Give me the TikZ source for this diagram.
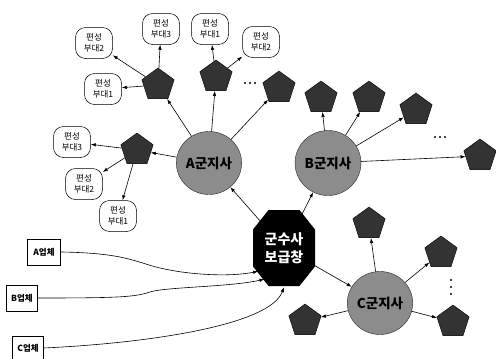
\documentclass[tikz,border=0pt]{standalone}
\usepackage{fontspec}
\newfontfamily\kr{Noto Sans CJK KR}
\usetikzlibrary{shapes.geometric,arrows.meta}
\begin{document}
\begin{tikzpicture}[x=1pt,y=-1pt,
 arr/.style={-{Latex[length=5pt,width=3.5pt]}, line width=0.6pt},
 penta/.style={regular polygon, regular polygon sides=5, minimum size=34pt, inner sep=0pt, fill=black!80, draw=black},
 gunji/.style={ellipse, minimum width=52pt, minimum height=64pt, inner sep=0pt, fill=black!45, draw=black!85, font=\kr\bfseries\fontsize{13.5}{15}\selectfont},
 unit/.style={rounded corners=10pt, draw, line width=0.5pt, minimum width=37pt, minimum height=31pt, inner sep=1pt, align=center, font=\kr\fontsize{8.5}{11}\selectfont, fill=white},
 firm/.style={draw, line width=0.8pt, minimum width=32pt, minimum height=26pt, inner sep=1pt, font=\kr\bfseries\fontsize{8.5}{9}\selectfont, fill=white},
 dotmark/.style={fill=black}]
\useasboundingbox (0,0) rectangle (496,359);

% central depot (octagon)
\fill[black, shift={(284,248)}] (-15.5,-38) -- (15.5,-38) -- (31,-18.5) -- (31,18.5) -- (15.5,38) -- (-15.5,38) -- (-31,18.5) -- (-31,-18.5) -- cycle;
\node[ellipse, minimum width=64pt, minimum height=78pt, inner sep=0pt, text=white, align=center, font=\kr\bfseries\fontsize{14}{18}\selectfont] (oct) at (284,248) {군수사\\보급창};

% support commands
\node[gunji, minimum width=50pt, minimum height=63pt] (A) at (209,163) {A군지사};
\node[gunji, minimum width=53pt, minimum height=65pt] (B) at (328,163) {B군지사};
\node[gunji, minimum width=53pt, minimum height=63pt] (C) at (380,303) {C군지사};

% pentagons
\node[penta] (pa1) at (158,85) {};
\node[penta] (pa2) at (216,77) {};
\node[penta] (pa3) at (279,88) {};
\node[penta] (pa4) at (137,150) {};
\node[penta] (pb2) at (321,98) {};
\node[penta] (pb3) at (369,98) {};
\node[penta] (pb4) at (416,110) {};
\node[penta] (pb5) at (480,156) {};
\node[penta] (pc1) at (369,224) {};
\node[penta] (pc2) at (441,253) {};
\node[penta] (pc3) at (453,322) {};
\node[penta] (pc4) at (305,321) {};

% units
\node[unit] (u1) at (94,43) {편성\\부대2};
\node[unit] (u2) at (161,29) {편성\\부대3};
\node[unit] (u3) at (210,29) {편성\\부대1};
\node[unit] (u4) at (261,42) {편성\\부대2};
\node[unit] (u5) at (103,89) {편성\\부대1};
\node[unit] (u6) at (72,142) {편성\\부대3};
\node[unit] (u7) at (84,184) {편성\\부대2};
\node[unit] (u8) at (118,216) {편성\\부대1};

% firms
\node[firm, minimum width=33pt] (Aco) at (44,252) {A업체};
\node[firm, minimum width=31pt] (Bco) at (22,298) {B업체};
\node[firm, minimum width=31pt, minimum height=24pt] (Cco) at (28,348) {C업체};

% ellipsis marks
\foreach \dx in {-5,0,5} {
  \fill[dotmark] (250+\dx,83) circle (1.2pt);
  \fill[dotmark] (440+\dx,137) circle (1.2pt);
}
\foreach \dy in {-7,0,7} \fill[dotmark] (451,287+\dy) circle (1.2pt);

% connectors: pentagons -> units
\draw[arr] (pa1) -- (u1);
\draw[arr] (pa1) -- (u2);
\draw[arr] (pa1) -- (u5);
\draw[arr] (pa2) -- (u3);
\draw[arr] (pa2) -- (u4);
\draw[arr] (pa4) -- (u6);
\draw[arr] (pa4) -- (u7);
\draw[arr] (pa4) -- (u8);

% support commands -> pentagons
\draw[arr] (A) -- (pa1);
\draw[arr] (A) -- (pa2);
\draw[arr] (A) -- (pa3);
\draw[arr] (A) -- (pa4);
\draw[arr] (B) -- (pb2);
\draw[arr] (B) -- (pb3);
\draw[arr] (B) -- (pb4);
\draw[arr] (B) -- (pb5);
\draw[arr] (C) -- (pc1);
\draw[arr] (C) -- (pc2);
\draw[arr] (C) -- (pc3);
\draw[arr] (C) -- (pc4);

% depot -> support commands
\draw[arr] (oct) -- (A);
\draw[arr] (oct.62) -- (B);
\draw[arr] (oct) -- (C);

% firms -> depot
\draw[arr] (Aco.east) .. controls (125,253) and (135,262) .. (160,268) .. controls (190,275) and (230,277) .. (oct.222);
\draw[arr] (Bco.east) .. controls (120,298) and (135,297) .. (150,292) .. controls (165,287) and (230,287) .. (oct.238);
\draw[arr] (Cco.east) .. controls (150,343) and (270,325) .. (oct.south);
\end{tikzpicture}
\end{document}
